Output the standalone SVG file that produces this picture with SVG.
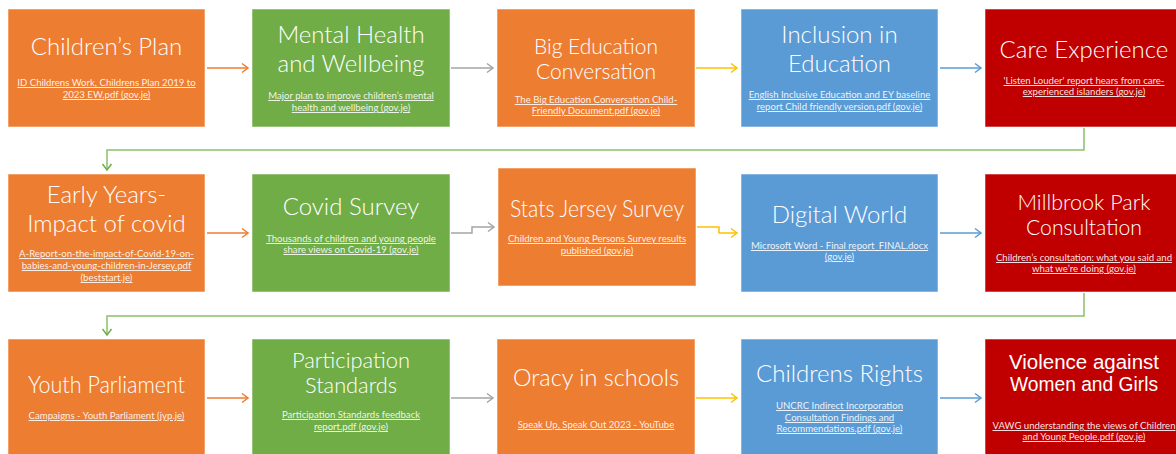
<svg xmlns="http://www.w3.org/2000/svg" width="1176" height="454" viewBox="0 0 1176 454">
<style>
.box{stroke:#ffffff;stroke-opacity:0.55;stroke-width:1}
.o{fill:#ED7D31}.g{fill:#70AD47}.b{fill:#5B9BD5}.r{fill:#C00000}
.t{font-family:Lato,"Open Sans","Liberation Sans",sans-serif;font-weight:300;font-size:24px;fill:#fff;text-anchor:middle}
.n{font-size:22px}
.v{font-family:"Liberation Sans",Arial,sans-serif;font-size:19.5px;fill:#fff;text-anchor:middle}
.s{font-family:Lato,"Open Sans","Liberation Sans",sans-serif;font-size:9.6px;fill:#fff;fill-opacity:0.9;text-anchor:middle;text-decoration:underline}
.c{fill:none;stroke-width:1.5}
</style>
<defs>
<marker id="ao" markerUnits="userSpaceOnUse" markerWidth="12" markerHeight="12" refX="9" refY="6" orient="auto"><path d="M3,1.5 L9,6 L3,10.5" fill="none" stroke="#ED7D31" stroke-width="1.5"/></marker>
<marker id="ag" markerUnits="userSpaceOnUse" markerWidth="12" markerHeight="12" refX="9" refY="6" orient="auto"><path d="M3,1.5 L9,6 L3,10.5" fill="none" stroke="#A5A5A5" stroke-width="1.5"/></marker>
<marker id="ay" markerUnits="userSpaceOnUse" markerWidth="12" markerHeight="12" refX="9" refY="6" orient="auto"><path d="M3,1.5 L9,6 L3,10.5" fill="none" stroke="#FFC000" stroke-width="1.5"/></marker>
<marker id="ab" markerUnits="userSpaceOnUse" markerWidth="12" markerHeight="12" refX="9" refY="6" orient="auto"><path d="M3,1.5 L9,6 L3,10.5" fill="none" stroke="#5B9BD5" stroke-width="1.5"/></marker>
<marker id="agr" markerUnits="userSpaceOnUse" markerWidth="12" markerHeight="12" refX="9" refY="6" orient="auto"><path d="M3,1.5 L9,6 L3,10.5" fill="none" stroke="#70AD47" stroke-width="1.5"/></marker>
</defs>

<g id="connectors">
<path class="c" stroke="#ED7D31" d="M207,68 H248" marker-end="url(#ao)"/>
<path class="c" stroke="#A5A5A5" d="M451,68 H493" marker-end="url(#ag)"/>
<path class="c" stroke="#FFC000" d="M696,68 H737" marker-end="url(#ay)"/>
<path class="c" stroke="#5B9BD5" d="M940,68 H981" marker-end="url(#ab)"/>
<path class="c" stroke="#8CC06A" d="M1084,128 V150 H107 V170" marker-end="url(#agr)"/>
<path class="c" stroke="#ED7D31" d="M207,233 H248" marker-end="url(#ao)"/>
<path class="c" stroke="#A5A5A5" d="M451,233 H472 V227 H494" marker-end="url(#ag)"/>
<path class="c" stroke="#FFC000" d="M697,227 H719 V233 H737" marker-end="url(#ay)"/>
<path class="c" stroke="#5B9BD5" d="M940,233 H981" marker-end="url(#ab)"/>
<path class="c" stroke="#8CC06A" d="M1084,293 V316 H107 V335" marker-end="url(#agr)"/>
<path class="c" stroke="#ED7D31" d="M207,398 H248" marker-end="url(#ao)"/>
<path class="c" stroke="#A5A5A5" d="M451,398 H493" marker-end="url(#ag)"/>
<path class="c" stroke="#FFC000" d="M696,398 H737" marker-end="url(#ay)"/>
<path class="c" stroke="#5B9BD5" d="M940,398 H981" marker-end="url(#ab)"/>
</g>

<g id="n1"><rect class="box o" x="8" y="9" width="197" height="118"/>
<text class="t" x="106.5" y="55">Children’s Plan</text>
<text class="s" x="106.5" y="86">ID Childrens Work, Childrens Plan 2019 to</text>
<text class="s" x="106.5" y="98">2023 EW.pdf (gov.je)</text></g>

<g id="n2"><rect class="box g" x="252" y="9" width="198" height="118"/>
<text class="t" x="351" y="43">Mental Health</text>
<text class="t" x="351" y="72">and Wellbeing</text>
<text class="s" x="351" y="99">Major plan to improve children’s mental</text>
<text class="s" x="351" y="111">health and wellbeing (gov.je)</text></g>

<g id="n3"><rect class="box o" x="497" y="9" width="198" height="118"/>
<text class="t n" x="596" y="54" textLength="124" lengthAdjust="spacingAndGlyphs">Big Education</text>
<text class="t n" x="596" y="79" textLength="120" lengthAdjust="spacingAndGlyphs">Conversation</text>
<text class="s" x="596" y="103">The Big Education Conversation Child-</text>
<text class="s" x="596" y="114">Friendly Document.pdf (gov.je)</text></g>

<g id="n4"><rect class="box b" x="741" y="9" width="197" height="118"/>
<text class="t" x="839.5" y="43">Inclusion in</text>
<text class="t" x="839.5" y="72">Education</text>
<text class="s" x="839.5" y="98">English Inclusive Education and EY baseline</text>
<text class="s" x="839.5" y="110">report Child friendly version.pdf (gov.je)</text></g>

<g id="n5"><rect class="box r" x="985" y="9" width="198" height="118"/>
<text class="t" x="1084" y="58">Care Experience</text>
<text class="s" x="1084" y="84">'Listen Louder' report hears from care-</text>
<text class="s" x="1084" y="95">experienced islanders (gov.je)</text></g>

<g id="n6"><rect class="box o" x="8" y="174" width="197" height="118"/>
<text class="t" x="106.5" y="203">Early Years-</text>
<text class="t" x="106.5" y="232">Impact of covid</text>
<text class="s" x="106.5" y="257">A-Report-on-the-impact-of-Covid-19-on-</text>
<text class="s" x="106.5" y="269">babies-and-young-children-in-Jersey.pdf</text>
<text class="s" x="106.5" y="281">(beststart.je)</text></g>

<g id="n7"><rect class="box g" x="252" y="174" width="198" height="118"/>
<text class="t" x="351" y="215">Covid Survey</text>
<text class="s" x="351" y="242">Thousands of children and young people</text>
<text class="s" x="351" y="253">share views on Covid-19 (gov.je)</text></g>

<g id="n8"><rect class="box o" x="498" y="168" width="198" height="118"/>
<text class="t" x="597" y="217" textLength="174" lengthAdjust="spacingAndGlyphs">Stats Jersey Survey</text>
<text class="s" x="597" y="242">Children and Young Persons Survey results</text>
<text class="s" x="597" y="254">published (gov.je)</text></g>

<g id="n9"><rect class="box b" x="741" y="174" width="197" height="118"/>
<text class="t" x="839.5" y="223">Digital World</text>
<text class="s" x="839.5" y="249">Microsoft Word - Final report_FINAL.docx</text>
<text class="s" x="839.5" y="260">(gov.je)</text></g>

<g id="n10"><rect class="box r" x="985" y="174" width="198" height="118"/>
<text class="t n" x="1084" y="210" textLength="133" lengthAdjust="spacingAndGlyphs">Millbrook Park</text>
<text class="t n" x="1084" y="235" textLength="116" lengthAdjust="spacingAndGlyphs">Consultation</text>
<text class="s" x="1084" y="261">Children’s consultation: what you said and</text>
<text class="s" x="1084" y="272">what we’re doing (gov.je)</text></g>

<g id="n11"><rect class="box o" x="8" y="339" width="197" height="118"/>
<text class="t" x="106.5" y="393" textLength="157" lengthAdjust="spacingAndGlyphs">Youth Parliament</text>
<text class="s" x="106.5" y="419">Campaigns - Youth Parliament (jyp.je)</text></g>

<g id="n12"><rect class="box g" x="252" y="339" width="198" height="118"/>
<text class="t n" x="351" y="368" textLength="118" lengthAdjust="spacingAndGlyphs">Participation</text>
<text class="t n" x="351" y="393" textLength="92" lengthAdjust="spacingAndGlyphs">Standards</text>
<text class="s" x="351" y="418">Participation Standards feedback</text>
<text class="s" x="351" y="430">report.pdf (gov.je)</text></g>

<g id="n13"><rect class="box o" x="497" y="339" width="198" height="118"/>
<text class="t" x="596" y="386" textLength="166" lengthAdjust="spacingAndGlyphs">Oracy in schools</text>
<text class="s" x="596" y="428">Speak Up, Speak Out 2023 - YouTube</text></g>

<g id="n14"><rect class="box b" x="741" y="339" width="197" height="118"/>
<text class="t" x="839.5" y="382">Childrens Rights</text>
<text class="s" x="839.5" y="409">UNCRC Indirect Incorporation</text>
<text class="s" x="839.5" y="421">Consultation Findings and</text>
<text class="s" x="839.5" y="432">Recommendations.pdf (gov.je)</text></g>

<g id="n15"><rect class="box r" x="985" y="339" width="198" height="118"/>
<text class="v" x="1084" y="369" textLength="150" lengthAdjust="spacingAndGlyphs">Violence against</text>
<text class="v" x="1084" y="391" textLength="148" lengthAdjust="spacingAndGlyphs">Women and Girls</text>
<text class="s" x="1084" y="429">VAWG understanding the views of Children</text>
<text class="s" x="1084" y="440">and Young People.pdf (gov.je)</text></g>
</svg>
